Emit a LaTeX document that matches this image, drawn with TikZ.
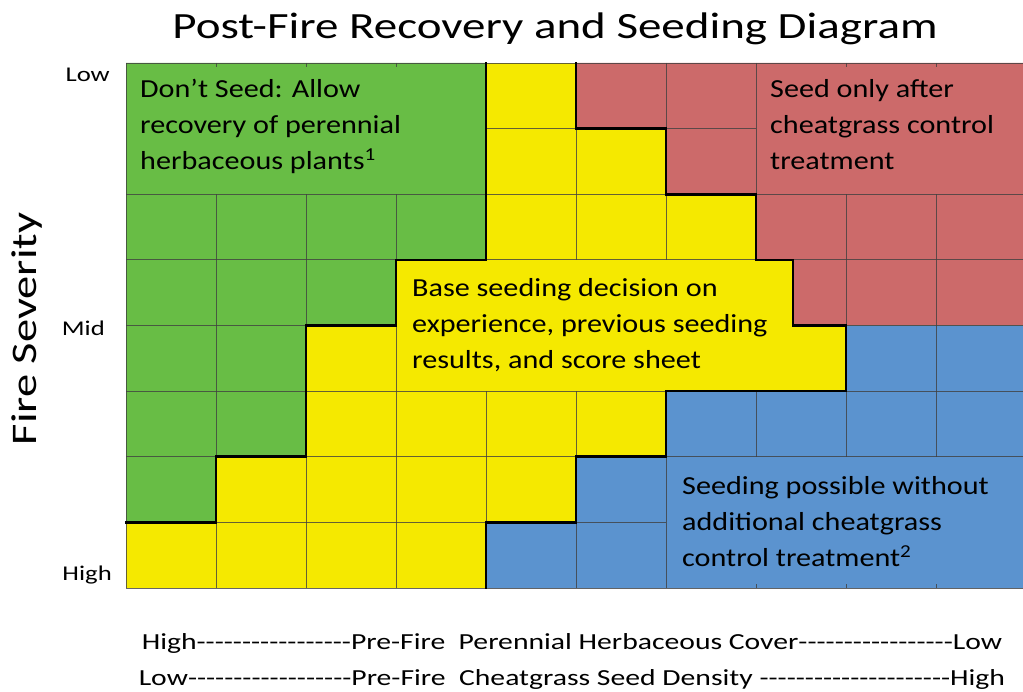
\documentclass[tikz,border=0pt]{standalone}
\usepackage{fontspec}
\setmainfont{Carlito}
\newfontfamily\titlefont{Carlito}[FakeStretch=1.27]
\newfontfamily\fsfont{Carlito}[FakeStretch=1.29]
\newfontfamily\regfont{Carlito}[FakeStretch=1.16]
\newfontfamily\axfont{Carlito}[FakeStretch=1.27]
\newfontfamily\botfont{Carlito}[FakeStretch=1.29]
\newcommand\dashrun[1]{\foreach \i in {1,...,#1}{\mbox{-}}}
\definecolor{gfill}{RGB}{104,189,69}
\definecolor{yfill}{RGB}{245,233,0}
\definecolor{rfill}{RGB}{204,106,106}
\definecolor{bfill}{RGB}{91,147,207}
\tikzset{
  thin grid/.style={draw=black!75, line width=0.9pt, opacity=0.8},
  border/.style={draw=black, line width=2.6pt, line cap=rect},
  region text/.style={anchor=north west, align=left, inner sep=0pt, font=\regfont\fontsize{26}{36}\selectfont},
  axis label/.style={anchor=base east, inner sep=0pt, font=\axfont\fontsize{21}{25}\selectfont},
  bottom text/.style={anchor=base, inner sep=0pt, font=\botfont\fontsize{23}{27}\selectfont}
}
\begin{document}
\begin{tikzpicture}[x=1pt,y=-1pt]
\useasboundingbox (0,0) rectangle (1023,692);
\begin{scope}
\clip (0,0) rectangle (1023,692);
% background yellow
\fill[yfill] (126,63) rectangle (1026,588);
% green
\fill[gfill] (126,63) -- (486,63) -- (486,259.9) -- (396,259.9) -- (396,325.5) -- (306,325.5) -- (306,456.75) -- (216,456.75) -- (216,522.4) -- (126,522.4) -- cycle;
% red
\fill[rfill] (576,63) -- (1026,63) -- (1026,325.5) -- (793,325.5) -- (793,259.9) -- (756,259.9) -- (756,194.25) -- (666,194.25) -- (666,128.6) -- (576,128.6) -- cycle;
% blue
\fill[bfill] (846,325.5) -- (1026,325.5) -- (1026,588) -- (486,588) -- (486,522.4) -- (576,522.4) -- (576,456.75) -- (666,456.75) -- (666,391.1) -- (846,391.1) -- cycle;
% thin grid lines: horizontal
\draw[thin grid] (126,63) -- (1026,63);
\draw[thin grid] (486,128.6) -- (756,128.6);
\draw[thin grid] (126,194.25) -- (1026,194.25);
\draw[thin grid] (126,259.9) -- (1026,259.9);
\draw[thin grid] (126,325.5) -- (306,325.5) (846,325.5) -- (1026,325.5);
\draw[thin grid] (126,391.1) -- (1026,391.1);
\draw[thin grid] (126,456.75) -- (1026,456.75);
\draw[thin grid] (126,522.4) -- (666,522.4);
\draw[thin grid] (126,588) -- (1026,588);
% thin grid lines: vertical
\draw[thin grid] (126,63) -- (126,588);
\draw[thin grid] (216,194.25) -- (216,588) (216,63) -- (216,67);
\draw[thin grid] (306,194.25) -- (306,588) (306,63) -- (306,67);
\draw[thin grid] (396,194.25) -- (396,259.9) (396,325.5) -- (396,588) (396,63) -- (396,67);
\draw[thin grid] (486,391.1) -- (486,522.4);
\draw[thin grid] (576,128.6) -- (576,259.9) (576,391.1) -- (576,456.75) (576,522.4) -- (576,588);
\draw[thin grid] (666,63) -- (666,128.6) (666,194.25) -- (666,259.9) (666,456.75) -- (666,588);
\draw[thin grid] (756,63) -- (756,194.25) (756,391.1) -- (756,456.75) (756,584) -- (756,588);
\draw[thin grid] (846,194.25) -- (846,325.5) (846,391.1) -- (846,456.75) (846,63) -- (846,67) (846,584) -- (846,588);
\draw[thin grid] (936,194.25) -- (936,456.75) (936,63) -- (936,67) (936,584) -- (936,588);
% thick borders
\draw[border] (486,63) -- (486,259.9) -- (396,259.9) -- (396,325.5) -- (306,325.5) -- (306,456.75) -- (216,456.75) -- (216,522.4) -- (126,522.4);
\draw[border] (576,63) -- (576,128.6) -- (666,128.6) -- (666,194.25) -- (756,194.25) -- (756,259.9) -- (793,259.9) -- (793,325.5) -- (846,325.5) -- (846,391.1) -- (666,391.1) -- (666,456.75) -- (576,456.75) -- (576,522.4) -- (486,522.4) -- (486,588);
\end{scope}
% region texts
\node[region text] (green) at (140,79) {Don’t Seed: Allow\\recovery of perennial\\herbaceous plants\textsuperscript{1}};
\node[region text] (red) at (770,79) {Seed only after\\cheatgrass control\\treatment};
\node[region text] (yellow) at (412,278) {Base seeding decision on\\experience, previous seeding\\results, and score sheet};
\node[region text] (blue) at (682,476) {Seeding possible without\\additional cheatgrass\\control treatment\textsuperscript{2}};
% axis labels
\node[axis label] (low) at (110,82) {Low};
\node[axis label] (mid) at (105,336) {Mid};
\node[axis label] (high) at (112,580) {High};
\node[anchor=base, inner sep=0pt, rotate=90, font=\fsfont\fontsize{36}{40}\selectfont] (fs) at (36,329) {Fire Severity};
% title
\node[anchor=base, inner sep=0pt, font=\titlefont\fontsize{37}{44}\selectfont] (title) at (555,39) {Post-Fire Recovery and Seeding Diagram};
% bottom texts
\node[bottom text] (b1) at (572,649) {High\dashrun{17}Pre\mbox{-}Fire\ \ Perennial Herbaceous Cover\dashrun{17}Low};
\node[bottom text] (b2) at (572,685) {Low\dashrun{18}Pre\mbox{-}Fire\ \ Cheatgrass Seed Density \dashrun{21}High};
\end{tikzpicture}
\end{document}
